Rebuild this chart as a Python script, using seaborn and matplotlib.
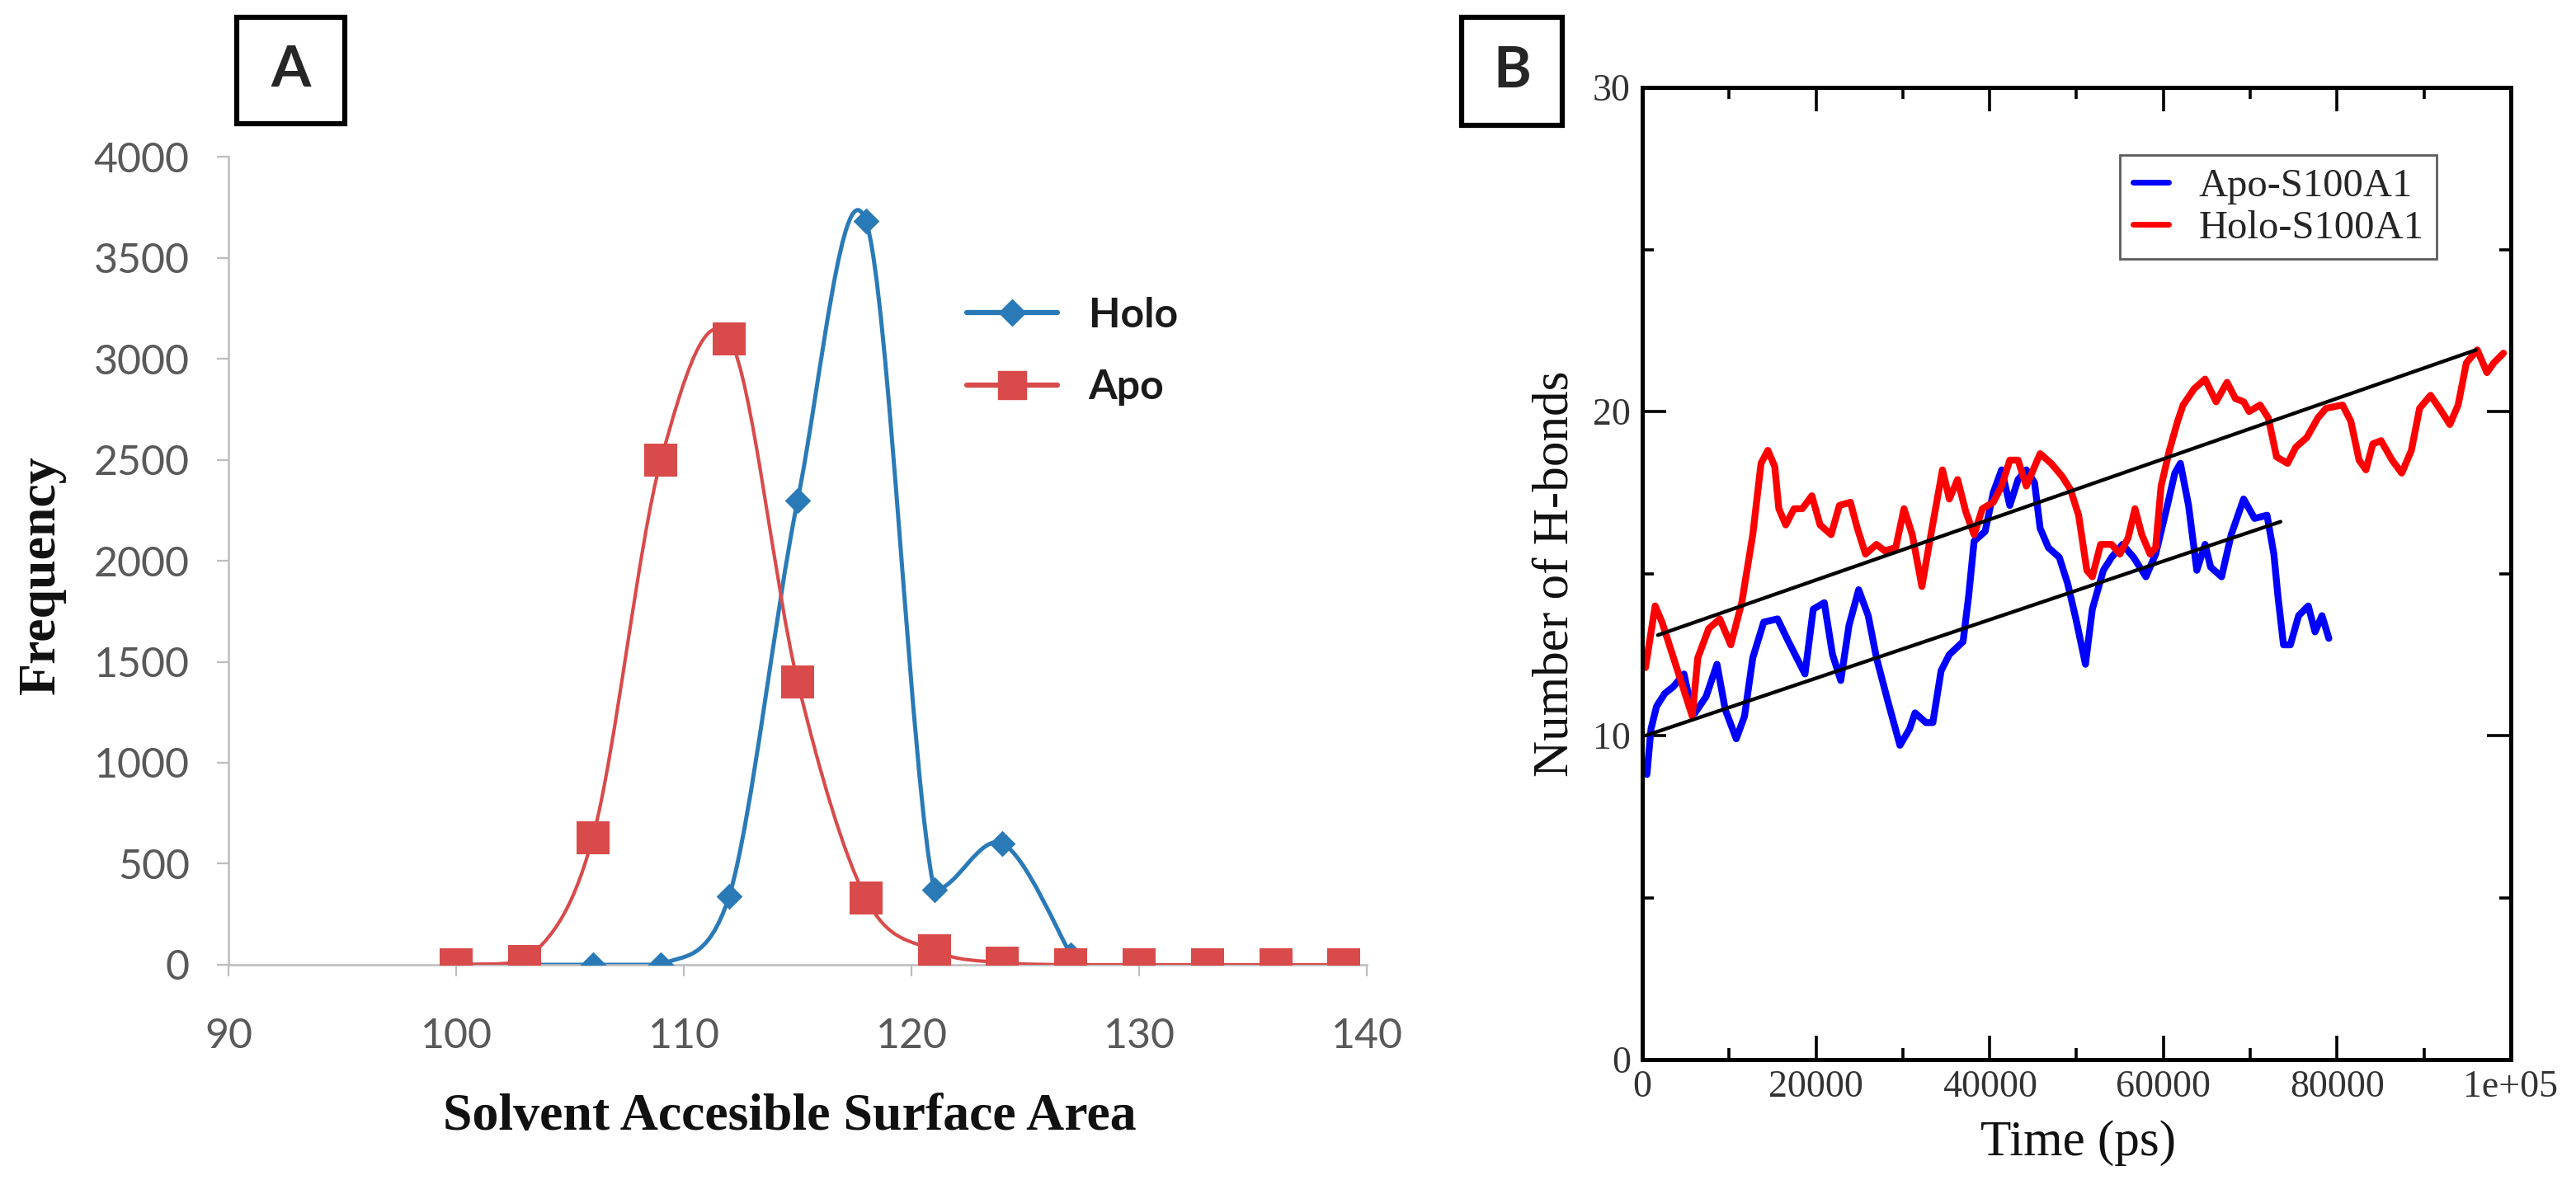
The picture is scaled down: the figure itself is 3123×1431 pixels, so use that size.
import numpy as np
import matplotlib
matplotlib.use("Agg")
import matplotlib.pyplot as plt
from matplotlib.path import Path
from matplotlib.patches import PathPatch, Rectangle
from matplotlib.lines import Line2D
import seaborn as sns

# ── Panneau A : distribution de la SASA ──────────────────────────────
sasa_holo = [100, 103, 106, 109, 112, 115, 118, 121, 124, 127]
freq_holo = [0, 0, 0, 0, 340, 2300, 3680, 370, 600, 50]
sasa_apo = [100, 103, 106, 109, 112, 115, 118, 121, 124, 127, 130, 133, 136, 139]
freq_apo = [0, 15, 630, 2500, 3100, 1400, 330, 70, 10, 0, 0, 0, 0, 0]
ticks_sasa = [90, 100, 110, 120, 130, 140]
ticks_freq = [0, 500, 1000, 1500, 2000, 2500, 3000, 3500, 4000]

# ── Panneau B : liaisons H au cours du temps (ps) ────────────────────
t_apo = [540, 1010, 1650, 2600, 3550, 4810, 5450, 6080, 7350, 8610,
         9560, 10830, 11780, 12730, 13990, 15580, 16840, 18740, 19690, 20960,
         21910, 22860, 23810, 24920, 26020, 26970, 28240, 29670, 30770, 31410,
         32670, 33460, 34410, 35360, 36940, 37580, 38210, 39480, 40420, 41380,
         42320, 43270, 44220, 45170, 45810, 46760, 48020, 48970, 49930, 51030,
         51820, 53090, 54040, 55300, 56570, 57990, 59110, 60370, 61320, 61960,
         62900, 63850, 64800, 65440, 66700, 67810, 69240, 70500, 71930, 72720,
         73190, 73830, 74620, 75570, 76680, 77460, 78260, 79050]
hb_apo = [8.8, 10.2, 10.9, 11.3, 11.5, 11.9, 11.1, 10.7, 11.2, 12.2,
          10.8, 9.9, 10.6, 12.4, 13.5, 13.6, 12.9, 11.9, 13.9, 14.1,
          12.5, 11.7, 13.4, 14.5, 13.7, 12.4, 11.1, 9.7, 10.2, 10.7,
          10.4, 10.4, 12.0, 12.5, 12.9, 14.3, 16.0, 16.3, 17.5, 18.2,
          17.1, 17.9, 18.2, 17.8, 16.4, 15.8, 15.5, 14.7, 13.6, 12.2,
          13.9, 15.1, 15.5, 15.9, 15.5, 14.9, 15.6, 17.0, 18.1, 18.4,
          17.1, 15.1, 15.9, 15.2, 14.9, 16.2, 17.3, 16.7, 16.8, 15.6,
          14.3, 12.8, 12.8, 13.7, 14.0, 13.2, 13.7, 13.0]

t_holo = [380, 1490, 2280, 5760, 6400, 7660, 8930, 10200, 11460, 12730,
          13680, 14470, 15260, 15730, 16530, 17480, 18430, 19530, 20480, 21750,
          22700, 23970, 24760, 25710, 26970, 27920, 29190, 30140, 31090, 32200,
          33300, 34570, 35360, 36310, 37260, 38210, 39160, 40420, 41380, 42320,
          43270, 44220, 45810, 47070, 48340, 49290, 50240, 51190, 51820, 52770,
          54040, 54990, 55940, 56730, 57520, 58470, 59110, 59740, 60690, 61640,
          62270, 63540, 64800, 66070, 67330, 68290, 69240, 69870, 71130, 72080,
          73030, 74300, 75250, 76520, 77780, 78730, 80630, 81580, 82530, 83320,
          84110, 85060, 86330, 87440, 88550, 89500, 90760, 92030, 92980, 93930,
          94880, 96140, 97250, 98040, 99150]
hb_holo = [12.1, 14.0, 13.5, 10.6, 12.4, 13.3, 13.6, 12.8, 14.1, 16.2,
           18.4, 18.8, 18.3, 17.0, 16.5, 17.0, 17.0, 17.4, 16.5, 16.2,
           17.1, 17.2, 16.4, 15.6, 15.9, 15.7, 15.8, 17.0, 16.2, 14.6,
           16.3, 18.2, 17.3, 17.9, 16.9, 16.2, 17.0, 17.2, 17.7, 18.5,
           18.5, 17.7, 18.7, 18.4, 18.0, 17.6, 16.8, 15.1, 14.9, 15.9,
           15.9, 15.6, 16.1, 17.0, 16.2, 15.6, 15.8, 17.7, 18.8, 19.7,
           20.2, 20.7, 21.0, 20.3, 20.9, 20.4, 20.3, 20.0, 20.2, 19.8,
           18.6, 18.4, 18.9, 19.2, 19.8, 20.1, 20.2, 19.7, 18.5, 18.2,
           19.0, 19.1, 18.5, 18.1, 18.8, 20.1, 20.5, 20.0, 19.6, 20.2,
           21.5, 21.9, 21.2, 21.5, 21.8]

# droites de tendance (extrémités)
fit_apo_t = [400, 73500]
fit_apo_v = [10.0, 16.6]
fit_holo_t = [1800, 96000]
fit_holo_v = [13.1, 21.9]

ticks_temps = [0, 20000, 40000, 60000, 80000, 100000]
labels_temps = ["0", "20000", "40000", "60000", "80000", "1e+05"]

BLEU_A, ROUGE_A = "#2a7ab8", "#d94a4a"
SERIF = "Liberation Serif"


def courbe_lissee(x, y):
    """Courbe de Bézier type Excel passant par les points (creux bornés)."""
    pts = np.column_stack([x, y]).astype(float)
    n = len(pts)
    verts, codes = [pts[0]], [Path.MOVETO]
    for i in range(n - 1):
        p0 = pts[i - 1] if i > 0 else pts[i]
        p1, p2 = pts[i], pts[i + 1]
        p3 = pts[i + 2] if i + 2 < n else p2
        c1 = p1 + (p2 - p0) / 6
        c2 = p2 - (p3 - p1) / 6
        # pas de creux sous le plus petit des deux points du segment
        bas = min(p1[1], p2[1])
        c1[1] = max(c1[1], bas)
        c2[1] = max(c2[1], bas)
        verts += [c1, c2, p2]
        codes += [Path.CURVE4] * 3
    return Path(verts, codes)


sns.set_theme(style="white")
plt.rcParams["font.family"] = ["Lato", "DejaVu Sans"]

fig = plt.figure(figsize=(31.23, 14.31), dpi=100)
axA = fig.add_axes([0.0887, 0.1824, 0.4419, 0.6848])
axB = fig.add_axes([0.6375, 0.1020, 0.3372, 0.8239])

# ── Panneau A ─────────────────────────────────────────────────────────
axA.add_patch(PathPatch(courbe_lissee(sasa_holo, freq_holo), facecolor="none",
                        edgecolor=BLEU_A, lw=3.6, zorder=2))
sns.scatterplot(x=sasa_holo, y=freq_holo, marker="D", s=260, color=BLEU_A,
                linewidth=0, ax=axA, zorder=3)
axA.add_patch(PathPatch(courbe_lissee(sasa_apo, freq_apo), facecolor="none",
                        edgecolor=ROUGE_A, lw=3.0, zorder=4))
sns.scatterplot(x=sasa_apo, y=freq_apo, marker="s", s=820, color=ROUGE_A,
                linewidth=0, ax=axA, zorder=5)

axA.set_xlim(90, 140)
axA.set_ylim(0, 4000)
axA.set_xticks(ticks_sasa)
axA.set_yticks(ticks_freq)
axA.spines[["top", "right"]].set_visible(False)
for s in ("left", "bottom"):
    axA.spines[s].set_color("#bdbdbd")
    axA.spines[s].set_linewidth(1.8)
axA.spines["left"].set_zorder(0)
axA.tick_params(direction="out", length=10, width=1.6, color="#bdbdbd",
                labelcolor="#595959", labelsize=36, left=True, bottom=True)
axA.tick_params(axis="x", pad=36)
axA.tick_params(axis="y", pad=24)
axA.set_xlabel("Solvent Accesible Surface Area", fontsize=46, fontweight="bold",
               family=SERIF, color="#111111", va="center")
axA.xaxis.set_label_coords(0.493, -0.189)
axA.set_ylabel("Frequency", fontsize=46, fontweight="bold", family=SERIF,
               color="#111111", va="center")
axA.yaxis.set_label_coords(-0.164, 0.483)

poignees_A = [
    Line2D([], [], color=BLEU_A, lw=4.5, marker="D", markersize=16),
    Line2D([], [], color=ROUGE_A, lw=4.5, marker="s", markersize=25),
]
legA = axA.legend(poignees_A, ["Holo", "Apo"], loc="center left",
                  bbox_to_anchor=(1172 / 3123, 1 - 426 / 1431),
                  bbox_transform=fig.transFigure, frameon=False,
                  borderpad=0, borderaxespad=0, handlelength=2.2,
                  handletextpad=0.75, labelspacing=0.85,
                  prop={"size": 36, "weight": "bold"})
for txt in legA.get_texts():
    txt.set_color("#1a1a1a")

# ── Panneau B ─────────────────────────────────────────────────────────
sns.lineplot(x=t_apo, y=hb_apo, color="#0000ff", lw=6, sort=False,
             estimator=None, ax=axB, label="Apo-S100A1")
sns.lineplot(x=t_holo, y=hb_holo, color="#ff0000", lw=6, sort=False,
             estimator=None, ax=axB, label="Holo-S100A1")
sns.lineplot(x=fit_holo_t, y=fit_holo_v, color="black", lw=3.2, ax=axB)
sns.lineplot(x=fit_apo_t, y=fit_apo_v, color="black", lw=3.2, ax=axB)

axB.set_xlim(0, 100000)
axB.set_ylim(0, 30)
axB.set_xticks(ticks_temps, labels=labels_temps)
axB.set_xticks([10000, 30000, 50000, 70000, 90000], minor=True)
axB.set_yticks([0, 10, 20, 30])
axB.set_yticks([5, 15, 25], minor=True)
for s in axB.spines.values():
    s.set_color("black")
    s.set_linewidth(3.6)
axB.tick_params(which="both", direction="in", top=True, right=True,
                bottom=True, left=True, width=2.6, color="black")
axB.tick_params(which="major", length=21, labelsize=33, labelcolor="#333333",
                labelfontfamily=SERIF)
axB.tick_params(axis="x", which="major", pad=9)
axB.tick_params(axis="y", which="major", pad=10)
axB.tick_params(which="minor", length=10)
axB.set_xlabel("Time (ps)", fontsize=44, family=SERIF, color="#111111", va="center")
axB.xaxis.set_label_coords(0.502, -0.086)
axB.set_ylabel("Number of H-bonds", fontsize=44, family=SERIF, color="#111111",
               va="center")
axB.yaxis.set_label_coords(-0.0997, 0.5)

legB = axB.legend(loc="upper left", bbox_to_anchor=(2570 / 3123, 1 - 188 / 1431),
                  bbox_transform=fig.transFigure, frameon=True, fancybox=False,
                  borderaxespad=0, borderpad=0.32, handlelength=0.9,
                  handletextpad=0.75, labelspacing=0.15,
                  prop={"family": SERIF, "size": 35})
legB.get_frame().set_edgecolor("#333333")
legB.get_frame().set_linewidth(2.0)
for ln in legB.get_lines():
    ln.set_linewidth(5)

# ── Étiquettes encadrées A / B ────────────────────────────────────────
for lettre, (x0, y0, w, h) in {"A": (287, 21, 131, 129),
                               "B": (1772, 21, 122, 131)}.items():
    fig.patches.append(Rectangle((x0 / 3123, 1 - (y0 + h) / 1431), w / 3123, h / 1431,
                                 transform=fig.transFigure, fill=False,
                                 edgecolor="black", lw=4.5))
    fig.text((x0 + w / 2) / 3123, 1 - (y0 + h / 2) / 1431, lettre,
             ha="center", va="center", fontsize=50, fontweight="bold")

fig.savefig("out.png", dpi=100, facecolor="white")
plt.close(fig)
